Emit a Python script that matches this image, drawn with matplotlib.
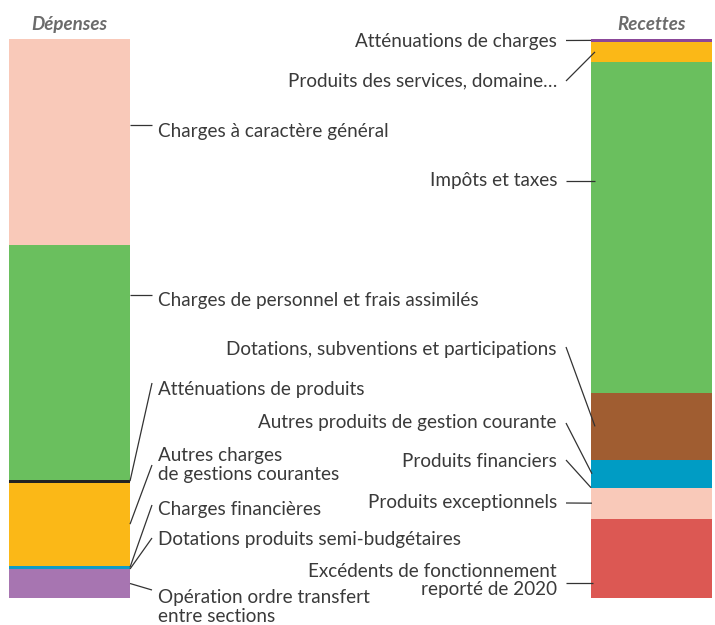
import matplotlib
matplotlib.use("Agg")
import matplotlib.pyplot as plt

plt.rcParams['font.family'] = ['Lato', 'DejaVu Sans']

# ---------------- data (percent of total, listed top -> bottom) ----------------
dep_labels = ["Charges à caractère général",
              "Charges de personnel et frais assimilés",
              "Atténuations de produits",
              "Autres charges\nde gestions courantes",
              "Charges financières",
              "Dotations produits semi-budgétaires",
              "Opération ordre transfert\nentre sections"]
dep_values = [36.98, 41.91, 0.54, 14.85, 0.59, 0.0, 5.19]
dep_colors = ["#f9c9b9", "#6abf5e", "#222222", "#fbb817", "#109cc4", "#109cc4", "#a775b1"]

rec_labels = ["Atténuations de charges",
              "Produits des services, domaine…",
              "Impôts et taxes",
              "Dotations, subventions et participations",
              "Autres produits de gestion courante",
              "Produits financiers",
              "Produits exceptionnels",
              "Excédents de fonctionnement\nreporté de 2020"]
rec_values = [0.54, 3.58, 59.21, 11.99, 4.96, 0.0, 5.55, 14.19]
rec_colors = ["#8b4799", "#fbb817", "#6abf5e", "#a05d31", "#009cc4", "#009cc4", "#f9c9b9", "#dc5853"]

titles = ["Dépenses", "Recettes"]

# ---------------- layout ----------------
W, H = 715, 625
PX_TOP, PX_BOT = 39, 598
S = (PX_BOT - PX_TOP) / 100.0


def py(p):
    """pixel row -> data y"""
    return (PX_BOT - p) / S


fig = plt.figure(figsize=(W / 100, H / 100), dpi=100)
ax = fig.add_axes([0, 0, 1, 1])
ax.set_xlim(0, W)
ax.set_ylim(py(H), py(0))
ax.axis('off')

TXT = "#3a3a3a"
LINE = "#333333"
FS = 13.6

LX0, LX1 = 9, 130
RX0, RX1 = 591, 712


def stack(x0, x1, values, colors):
    bottoms = []
    b = 0.0
    for v in reversed(values):
        bottoms.append(b)
        b += v
    bottoms = bottoms[::-1]
    for v, c, bt in zip(values, colors, bottoms):
        if v > 0:
            ax.bar((x0 + x1) / 2, v, width=x1 - x0, bottom=bt, color=c, linewidth=0)
    return bottoms


dep_b = stack(LX0, LX1, dep_values, dep_colors)
rec_b = stack(RX0, RX1, rec_values, rec_colors)

# left labels: baseline (px) of the last text line, leader end at text side
dep_text_base = [137, 306, 395, 480, 515, 545, 621.5]
dep_lead_txt = [125, 295, 383, 465, 505, 538, 590]
dep_anchor_mode = ["text", "text", "mid", "mid", "mid", "mid", "mid"]

for lab, v, bt, base, lt, mode in zip(dep_labels, dep_values, dep_b, dep_text_base,
                                       dep_lead_txt, dep_anchor_mode):
    anchor = py(lt) if mode == "text" else bt + v / 2
    ax.text(158, py(base), lab, ha='left', va='baseline', fontsize=FS, color=TXT,
            linespacing=1.12)
    ax.plot([LX1, 152], [anchor, py(lt)], color=LINE, lw=0.9, solid_capstyle='butt')

# right labels
rec_text_base = [46.5, 86.5, 185.5, 355, 428, 467, 508, 595]
rec_lead_txt = [40.5, 81, 181, 347, 423, 460, 503, 583]
rec_anchor_mode = ["mid", "mid", "text", "mid", "mid", "mid", "mid", "text"]
rec_end_x = [591, 595, 595, 595, 592, 591, 592, 593]

for lab, v, bt, base, lt, mode, ex in zip(rec_labels, rec_values, rec_b, rec_text_base,
                                           rec_lead_txt, rec_anchor_mode, rec_end_x):
    anchor = py(lt) if mode == "text" else bt + v / 2
    ax.text(557, py(base), lab, ha='right', va='baseline', fontsize=FS, color=TXT,
            linespacing=1.06, multialignment='right')
    ax.plot([566, ex], [py(lt), anchor], color=LINE, lw=0.9, solid_capstyle='butt')

# titles
ax.text((LX0 + LX1) / 2, py(30), titles[0], ha='center', va='baseline', fontsize=13.5,
        color="#6b6b6b", fontweight='bold', fontstyle='italic')
ax.text((RX0 + RX1) / 2, py(30), titles[1], ha='center', va='baseline', fontsize=13.5,
        color="#6b6b6b", fontweight='bold', fontstyle='italic')

fig.savefig("out.png", dpi=100)
